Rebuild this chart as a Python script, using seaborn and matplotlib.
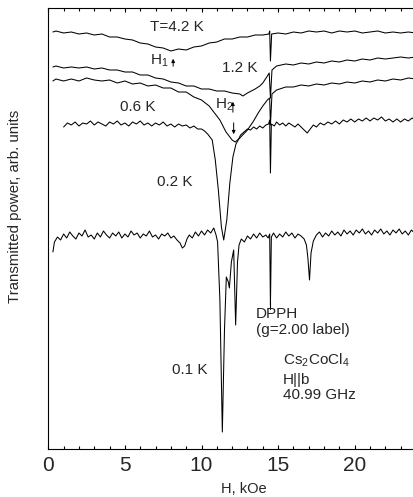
import numpy as np
import pandas as pd
import matplotlib
matplotlib.use('Agg')
import matplotlib.pyplot as plt
import seaborn as sns

# field values (kOe) and transmitted power (arb. units)
h_42 = [0.3, 0.5, 1.0, 1.5, 2.0, 2.5, 3.0, 3.5, 4.0, 4.5,
        5.0, 5.5, 6.0, 6.5, 7.0, 7.5, 8.0, 8.5, 9.0, 9.5,
        10.0, 10.5, 11.0, 11.5, 12.0, 12.5, 13.0, 13.5, 14.0, 14.4,
        14.45, 14.5, 14.58, 15.0, 15.5, 16.0, 16.5, 17.0, 17.5, 18.0,
        18.5, 19.0, 19.5, 20.0, 20.5, 21.0, 21.5, 22.0, 22.5, 23.0,
        23.5, 24.0, 24.5, 25.0]
p_42 = [417, 418, 416, 417, 415, 416, 414, 415, 412, 412,
        410, 409, 406, 405, 402, 401, 398, 400, 399, 402,
        403, 406, 407, 410, 410, 412, 412, 414, 414, 415,
        418, 388, 415, 416, 415, 417, 416, 418, 417, 418,
        416, 418, 417, 418, 416, 417, 418, 416, 417, 416,
        417, 416, 417, 416]

h_12 = [0.3, 0.5, 1.0, 1.5, 2.0, 2.5, 3.0, 3.5, 4.0, 4.5,
        5.0, 5.5, 6.0, 6.5, 7.0, 7.5, 8.0, 8.5, 9.0, 9.5,
        10.0, 10.5, 11.0, 11.5, 12.0, 12.5, 12.7, 13.0, 13.5, 13.8,
        14.0, 14.3, 14.42, 14.5, 14.6, 14.9, 15.5, 16.0, 16.5, 17.0,
        17.5, 18.0, 18.5, 19.0, 19.5, 20.0, 20.5, 21.0, 21.5, 22.0,
        22.5, 23.0, 23.5, 24.0, 24.5, 25.0]
p_12 = [382, 383, 381, 382, 381, 382, 380, 381, 379, 379,
        377, 377, 374, 374, 371, 370, 367, 366, 363, 363,
        360, 360, 358, 358, 356, 355, 353, 356, 360, 363,
        366, 373, 376, 351, 379, 383, 385, 384, 386, 385,
        387, 386, 388, 387, 389, 388, 390, 389, 391, 390,
        391, 392, 391, 392, 393, 392]

h_06 = [0.3, 0.5, 1.0, 1.5, 2.0, 2.5, 3.0, 3.5, 4.0, 4.5,
        5.0, 5.5, 6.0, 6.5, 7.0, 7.5, 8.0, 8.5, 9.0, 9.5,
        10.0, 10.5, 10.8, 11.2, 11.6, 12.0, 12.2, 12.5, 13.0, 13.4,
        13.7, 14.0, 14.3, 14.45, 14.5, 14.6, 14.9, 15.5, 16.0, 16.5,
        17.0, 17.5, 18.0, 18.5, 19.0, 19.5, 20.0, 20.5, 21.0, 21.5,
        22.0, 22.5, 23.0, 23.5, 24.0, 24.5, 25.0]
p_06 = [368, 370, 368, 370, 368, 371, 369, 368, 369, 366,
        368, 365, 366, 363, 364, 361, 361, 357, 357, 352,
        349, 343, 337, 329, 317, 309, 307, 311, 319, 328,
        336, 343, 349, 351, 324, 355, 359, 362, 362, 364,
        363, 365, 364, 366, 365, 367, 366, 368, 367, 369,
        368, 370, 369, 371, 370, 372, 372]

h_02 = [1.0, 1.25, 1.5, 1.75, 2.0, 2.25, 2.5, 2.75, 3.0, 3.25,
        3.5, 3.75, 4.0, 4.25, 4.5, 4.75, 5.0, 5.25, 5.5, 5.75,
        6.0, 6.25, 6.5, 6.75, 7.0, 7.25, 7.5, 7.75, 8.0, 8.25,
        8.5, 8.75, 9.0, 9.25, 9.5, 9.75, 10.0, 10.2, 10.4, 10.55,
        10.7, 10.9, 11.1, 11.3, 11.45, 11.65, 11.85, 12.05, 12.25, 12.4,
        12.55, 12.7, 12.85, 13.0, 13.2, 13.4, 13.6, 13.8, 14.0, 14.2,
        14.38, 14.45, 14.5, 14.56, 14.75, 14.9, 15.1, 15.3, 15.5, 15.7,
        15.9, 16.1, 16.3, 16.5, 16.7, 16.9, 17.1, 17.3, 17.5, 17.75,
        18.0, 18.25, 18.5, 18.75, 19.0, 19.25, 19.5, 19.75, 20.0, 20.25,
        20.5, 20.75, 21.0, 21.25, 21.5, 21.75, 22.0, 22.25, 22.5, 22.75,
        23.0, 23.25, 23.5, 23.75, 24.0, 24.25, 24.5, 24.75, 25.0]
p_02 = [322, 326, 324, 327, 323, 326, 325, 328, 324, 327,
        325, 323, 327, 325, 328, 324, 326, 323, 327, 325,
        328, 324, 326, 323, 326, 324, 327, 323, 325, 322,
        325, 323, 324, 321, 323, 320, 320, 318, 315, 312,
        309, 289, 259, 222, 209, 229, 266, 292, 305, 309,
        314, 316, 318, 320, 319, 322, 320, 323, 321, 324,
        325, 329, 276, 325, 323, 327, 324, 326, 323, 326,
        324, 322, 325, 322, 319, 316, 320, 324, 322, 326,
        324, 327, 325, 328, 325, 329, 327, 330, 327, 330,
        328, 331, 328, 331, 329, 332, 328, 330, 327, 330,
        327, 330, 328, 331, 328, 330, 327, 330, 328]

h_01 = [0.3, 0.4, 0.6, 0.8, 1.0, 1.2, 1.4, 1.6, 1.8, 2.0,
        2.2, 2.4, 2.6, 2.8, 3.0, 3.2, 3.4, 3.6, 3.8, 4.0,
        4.2, 4.4, 4.6, 4.8, 5.0, 5.2, 5.4, 5.6, 5.8, 6.0,
        6.2, 6.4, 6.6, 6.8, 7.0, 7.2, 7.4, 7.6, 7.8, 8.0,
        8.2, 8.4, 8.6, 8.75, 8.9, 9.05, 9.2, 9.4, 9.6, 9.8,
        10.0, 10.2, 10.4, 10.6, 10.8, 10.95, 11.05, 11.2, 11.36, 11.5,
        11.62, 11.75, 11.82, 11.95, 12.1, 12.23, 12.35, 12.45, 12.6, 12.8,
        13.0, 13.2, 13.4, 13.6, 13.8, 14.0, 14.2, 14.35, 14.45, 14.5,
        14.56, 14.7, 14.9, 15.1, 15.3, 15.5, 15.7, 15.9, 16.1, 16.3,
        16.5, 16.7, 16.85, 16.95, 17.05, 17.15, 17.3, 17.5, 17.7, 17.9,
        18.1, 18.3, 18.5, 18.7, 18.9, 19.1, 19.3, 19.5, 19.7, 19.9,
        20.1, 20.3, 20.5, 20.7, 20.9, 21.1, 21.3, 21.5, 21.7, 21.9,
        22.1, 22.3, 22.5, 22.7, 22.9, 23.1, 23.3, 23.5, 23.7, 23.9,
        24.1, 24.3, 24.5, 24.7, 24.9, 25.0]
p_01 = [197, 207, 212, 209, 215, 211, 217, 213, 210, 216,
        213, 219, 212, 214, 210, 216, 212, 218, 214, 211,
        216, 213, 217, 211, 215, 212, 218, 214, 216, 211,
        215, 213, 218, 212, 214, 210, 215, 213, 216, 211,
        213, 209, 206, 201, 203, 210, 214, 211, 217, 213,
        218, 214, 219, 216, 221, 214, 207, 149, 17, 119,
        172, 167, 161, 187, 199, 124, 187, 204, 210, 207,
        213, 210, 215, 211, 216, 212, 214, 211, 215, 144,
        212, 216, 211, 215, 212, 217, 213, 216, 211, 215,
        213, 210, 204, 190, 169, 196, 208, 214, 217, 212,
        216, 213, 218, 214, 217, 213, 219, 215, 218, 214,
        219, 216, 220, 215, 218, 214, 219, 216, 220, 215,
        218, 214, 219, 216, 220, 215, 218, 214, 219, 216,
        218, 214, 217, 215, 218, 216]

traces = [(h_42, p_42), (h_12, p_12), (h_06, p_06), (h_02, p_02), (h_01, p_01)]

sns.set_style('ticks')
plt.rcParams['font.family'] = ['Liberation Sans', 'DejaVu Sans']
plt.rcParams['mathtext.fontset'] = 'custom'
plt.rcParams['mathtext.rm'] = 'Liberation Sans'
plt.rcParams['mathtext.it'] = 'Liberation Sans'

fig = plt.figure(figsize=(4.13, 4.97), dpi=100)
ax = fig.add_axes([48.3 / 413, 48 / 497, 383 / 413, 441 / 497])

for h, p in traces:
    sns.lineplot(x=h, y=p, ax=ax, color='black', linewidth=0.75,
                 sort=False, estimator=None)

ax.set_xlim(0, 25)
ax.set_ylim(0, 441)
ax.set_yticks([])
ax.set_xticks([0, 5, 10, 15, 20])
ax.set_xticks(np.arange(0, 26, 1), minor=True)
ax.tick_params(axis='x', which='both', direction='in', top=True,
               labelsize=15, pad=5, color='black')
ax.tick_params(axis='x', which='major', length=3, width=0.8)
ax.tick_params(axis='x', which='minor', length=2, width=0.8)
for s in ax.spines.values():
    s.set_color('black')
    s.set_linewidth(0.8)

ax.set_xlabel('H, kOe', fontsize=10.5)
ax.xaxis.set_label_coords(0.511, -0.075)
fig.text(15 / 413, 1 - 206 / 497, 'Transmitted power, arb. units',
         rotation=90, ha='center', va='center', fontsize=10.8)

# temperature labels
fs = 11
ax.text(6.64, 422, 'T=4.2 K', fontsize=fs, va='center')
ax.text(11.34, 381, '1.2 K', fontsize=fs, va='center')
ax.text(4.68, 342, '0.6 K', fontsize=fs, va='center')
ax.text(7.1, 267, '0.2 K', fontsize=fs, va='center')
ax.text(8.08, 79, '0.1 K', fontsize=fs, va='center')

# H1 / H2 markers
ax.text(6.64, 388, 'H$_1$', fontsize=fs, va='center')
ax.annotate('', xy=(8.15, 393), xytext=(8.15, 380),
            arrowprops=dict(arrowstyle='-|>', color='black', lw=0.7,
                            mutation_scale=5))
ax.text(10.87, 344, 'H$_2$', fontsize=fs, va='center')
ax.annotate('', xy=(12.05, 350), xytext=(12.05, 334),
            arrowprops=dict(arrowstyle='-|>', color='black', lw=0.7,
                            mutation_scale=5))
ax.annotate('', xy=(12.1, 312), xytext=(12.1, 329),
            arrowprops=dict(arrowstyle='-|>', color='black', lw=0.7,
                            mutation_scale=5))

# DPPH reference
ax.plot([14.5, 14.5], [140, 147], color='black', lw=0.8)
ax.text(13.56, 135, 'DPPH', fontsize=fs, va='center')
ax.text(13.56, 119, '(g=2.00 label)', fontsize=fs, va='center')

ax.text(15.32, 89, 'Cs$_2$CoCl$_4$', fontsize=fs, va='center')
ax.text(15.32, 69, 'H||b', fontsize=fs, va='center')
ax.text(15.32, 54, '40.99 GHz', fontsize=fs, va='center')

plt.savefig('out.png', dpi=100)
